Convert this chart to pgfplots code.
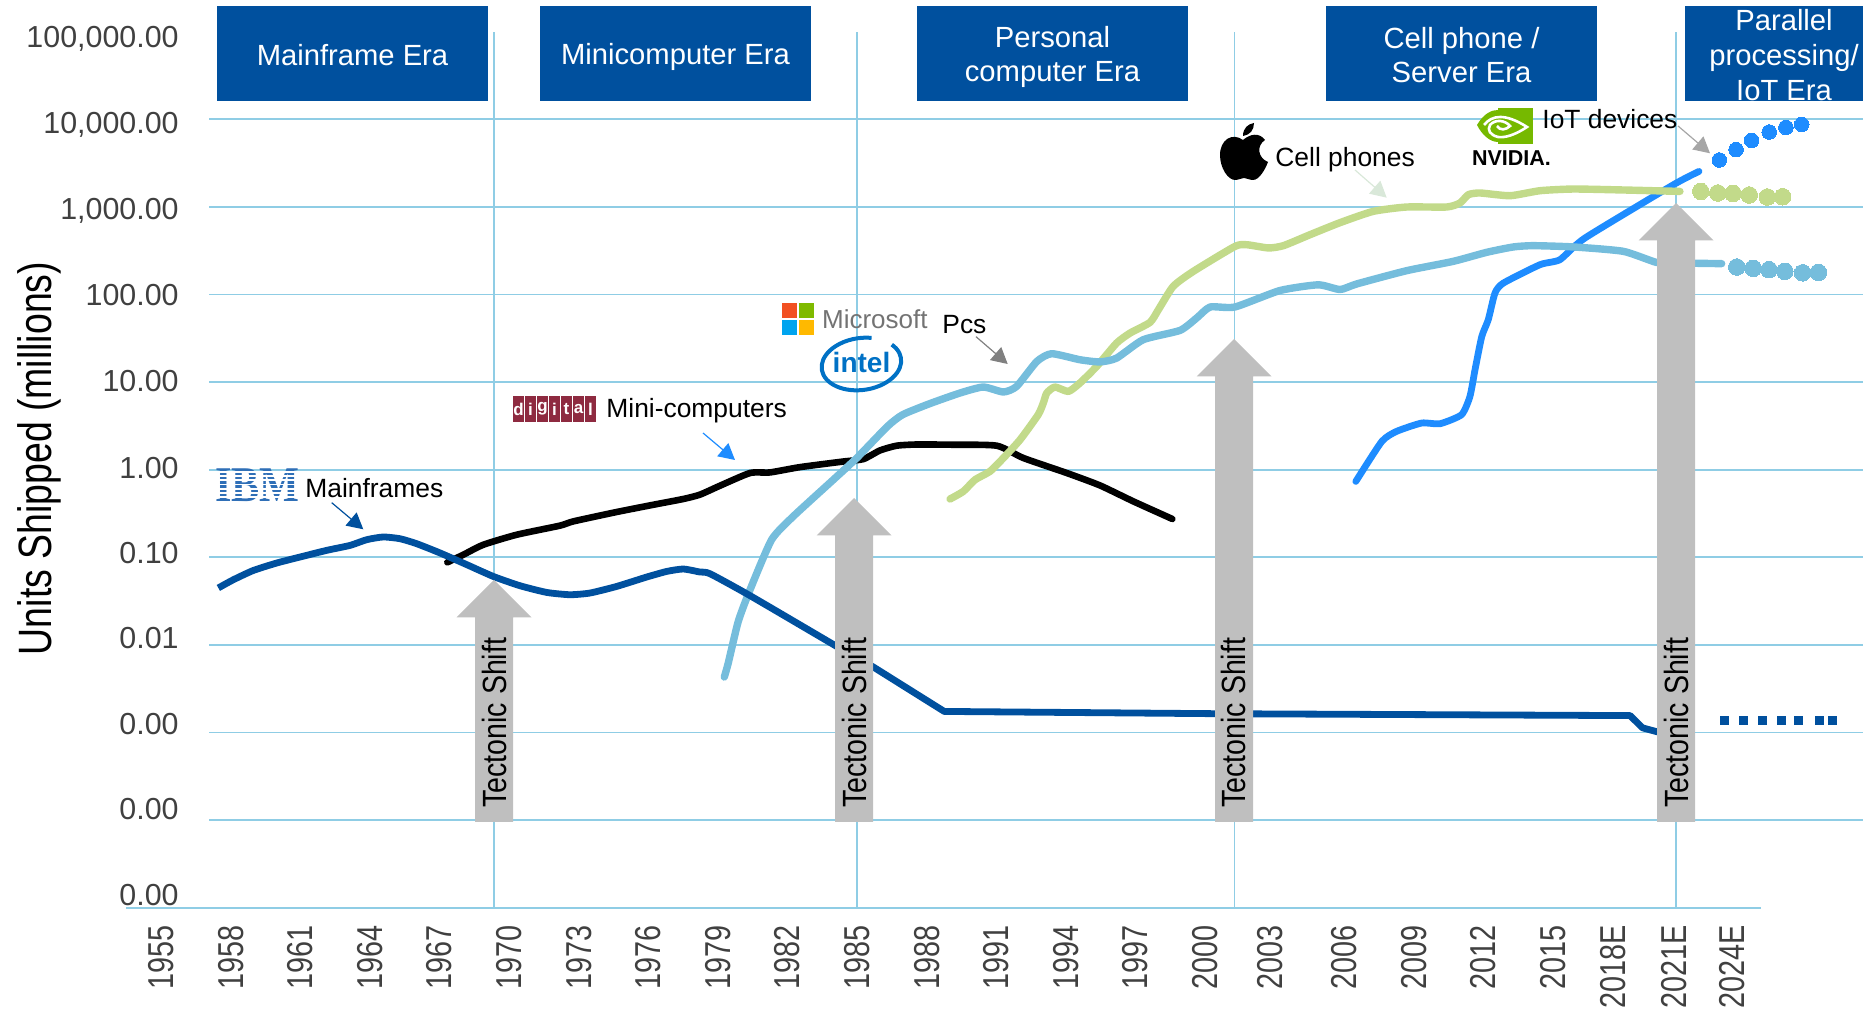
\documentclass[border=0pt]{standalone}
\usepackage{fontspec}
\usepackage{pgfplots}
\pgfplotsset{compat=1.18}
\usetikzlibrary{arrows.meta}
\setmainfont{Liberation Sans}
\newfontfamily\widefont[FakeStretch=0.8]{Liberation Sans}
\newfontfamily\tecfont[FakeStretch=0.85]{Liberation Sans}
\newfontfamily\serifb{Liberation Serif}
\newcommand\fs[1]{\fontsize{#1}{#1}\selectfont}
\definecolor{mainblue}{HTML}{00509E}
\definecolor{pcblue}{HTML}{75BDDC}
\definecolor{cellgreen}{HTML}{C2DA8A}
\definecolor{iotblue}{HTML}{1E8CFF}
\definecolor{gridc}{HTML}{8FCDE5}
\definecolor{arrowgray}{HTML}{BFBFBF}
\definecolor{ticktext}{HTML}{404040}
\begin{document}
\begin{tikzpicture}
\useasboundingbox (0,0) rectangle (931.5pt,505.5pt);
\begin{axis}[
    at={(63pt,51.65pt)}, anchor=south west,
    scale only axis, width=868.5pt, height=438pt,
    ymode=log, xmin=1953.49, xmax=2028.362, ymin=1e-5, ymax=1e5,
    clip=false, axis line style={draw=none}, major tick length=0pt, minor tick length=0pt,
    xtick={1955,1958,1961,1964,1967,1970,1973,1976,1979,1982,1985,1988,1991,1994,1997,2000,2002.8,2006,2009,2012,2015,2017.6,2020.2,2022.7},
    xticklabels={1955,1958,1961,1964,1967,1970,1973,1976,1979,1982,1985,1988,1991,1994,1997,2000,2003,2006,2009,2012,2015,2018E,2021E,2024E},
    x tick label style={rotate=90, anchor=east, inner sep=0pt, xshift=-8.6pt, font=\widefont\fs{18}, text=ticktext},
    ytick={83900,8910,929,99.5,10.4,1.08,0.113,0.0121,0.00126,0.000135,0.0000141},
    yticklabels={{100,000.00},{10,000.00},{1,000.00},{100.00},{10.00},{1.00},{0.10},{0.01},{0.00},{0.00},{0.00}},
    y tick label style={anchor=east, inner sep=0pt, xshift=26.5pt, yshift=-0.4pt, font=\fs{15.2}, text=ticktext},
    extra x ticks={1969.35,1985,2001.26,2020.30},
    extra x tick labels={},
    extra x tick style={grid=major, major grid style={gridc, line width=0.7pt}},
    ylabel={Units Shipped (millions)},
    ylabel style={at={(axis description cs:-0.0497,0.5128)}, anchor=center, font=\widefont\fs{23.4}, inner sep=0pt},
]
% gridlines and base line
\pgfplotsinvokeforeach{1e4,1e3,1e2,1e1,1,0.1,0.01,0.001,0.0001}{
  \addplot[gridc, line width=0.9pt, forget plot] coordinates {(1957.07,#1) (2028.36,#1)};
}
\addplot[gridc, line width=0.9pt, forget plot] coordinates {(1953.49,1e-5) (2023.97,1e-5)};

% mini-computers
\addplot[black, line width=3.3pt, line cap=round, line join=round, smooth, tension=0.35] coordinates {
(1967.34,.0875)(1968.03,.107)(1968.89,.139)(1970.33,.181)(1972.2,.230)(1972.77,.257)(1974.64,.329)
(1976.22,.398)(1977.51,.463)(1978.23,.519)(1979.09,.656)(1980.39,.917)(1981.25,.931)(1982.54,1.07)
(1984.41,1.24)(1985.27,1.32)(1985.99,1.66)(1986.71,1.88)(1987.57,1.94)(1989.01,1.93)(1991.02,1.88)
(1992.17,1.36)(1994.04,.917)(1995.47,.662)(1996.91,.435)(1998.59,.274)};

% IoT devices
\addplot[iotblue, line width=3.4pt, line cap=round, line join=round, smooth, tension=0.35] coordinates {
(2006.50,.735)(2007.62,2.10)(2008.26,2.74)(2009.34,3.41)(2010.13,3.35)(2011.06,4.25)(2011.42,6.87)
(2011.64,13.9)(2011.93,33.2)(2012.21,51.6)(2012.50,104)(2012.86,135)(2014.44,219)(2015.30,250)
(2016.38,442)(2020.19,1791)(2021.29,2541)};
\addplot[iotblue, only marks, mark=*, mark size=3.65pt, mark options={fill=iotblue, line width=0pt}] coordinates {
(2022.17,3430)(2022.89,4500)(2023.56,5744)(2024.32,7161)(2025.04,8090)(2025.72,8750)};

% cell phones
\addplot[cellgreen, line width=3.7pt, line cap=round, line join=round, smooth, tension=0.35] coordinates {
(1989.01,.463)(1989.58,.565)(1990.09,.769)(1990.73,.957)(1991.31,1.36)(1992.03,2.20)(1992.81,4.25)
(1993.03,5.77)(1993.18,7.51)(1993.53,8.79)(1994.11,7.83)(1994.61,9.77)(1995.33,15.1)(1996.19,27.9)
(1996.77,36.3)(1997.63,48.1)(1997.99,67.0)(1998.63,124)(1999.50,184)(2001.29,354)(2001.80,370)
(2002.73,340)(2003.38,361)(2004.53,482)(2005.82,661)(2007.25,889)(2008.69,997)(2010.42,997)
(2010.99,1108)(2011.35,1378)(2011.85,1442)(2013.15,1342)(2014.44,1531)(2015.88,1600)(2018.03,1560)(2020.47,1503)};
\addplot[cellgreen, only marks, mark=*, mark size=4.15pt, mark options={fill=cellgreen, line width=0pt}] coordinates {
(2021.37,1503)(2022.10,1442)(2022.76,1426)(2023.46,1368)(2024.24,1297)(2024.90,1307)};

% PCs
\addplot[pcblue, line width=3.7pt, line cap=round, line join=round, smooth, tension=0.35] coordinates {
(1979.28,.0043)(1979.45,.00621)(1979.88,.0185)(1980.39,.0427)(1981.32,.159)(1982.25,.293)(1983.98,.769)
(1984.99,1.36)(1986.31,3.12)(1986.97,4.25)(1988.13,5.67)(1989.44,7.51)(1990.44,8.79)(1991.31,7.71)
(1991.88,8.93)(1992.75,17.2)(1993.39,21.1)(1994.61,18.0)(1995.47,17.0)(1996.19,18.8)(1997.34,30.5)
(1998.92,38.9)(1999.64,53.9)(2000.22,72.0)(2001.29,72.0)(2003.23,111)(2004.88,129)(2005.82,114)
(2006.54,132)(2008.69,187)(2010.70,239)(2012.14,303)(2013.29,349)(2014.15,361)(2015.88,349)
(2018.03,311)(2019.47,232)(2020.33,229)(2022.27,225)};
\addplot[pcblue, only marks, mark=*, mark size=4.15pt, mark options={fill=pcblue, line width=0pt}] coordinates {
(2022.92,206)(2023.63,199)(2024.31,192)(2024.99,184)(2025.76,177)(2026.44,179)};

% mainframes, curved part then straight part
\addplot[mainblue, line width=3.4pt, line join=round, smooth, tension=0.35] coordinates {
(1957.47,.0447)(1958.12,.0555)(1958.98,.0708)(1959.99,.0861)(1960.99,.1007)(1962.14,.120)(1963.15,.1368)
(1963.87,.159)(1964.58,.1706)(1965.3,.163)(1966.02,.143)(1967.03,.112)(1968.18,.0824)(1969.32,.0605)
(1970.47,.0474)(1971.63,.0397)(1972.63,.0374)(1973.49,.0391)(1974.64,.0465)(1975.94,.0596)(1976.8,.069)
(1977.51,.0735)(1978.23,.0679)(1978.66,.065)(1980.39,.0365)(1984.12,.00962)};
\addplot[mainblue, line width=3.4pt, line join=round] coordinates {
(1984.12,.00962)(1985.7,.0056)(1988.76,.00174)(2000.43,.00164)(2018.32,.00156)(2018.86,.00113)(2019.48,.00102)(2020.13,.00097)};
\addplot[mainblue, only marks, mark=square*, mark size=2pt, mark options={fill=mainblue, line width=0pt}] coordinates {
(2022.41,.00136)(2023.23,.00136)(2024.05,.00136)(2024.83,.00136)(2025.6,.00136)(2026.47,.00136)(2027.03,.00136)};
\end{axis}

\begin{scope}[x=0.5pt, y=-0.5pt, yshift=505.5pt]
% era boxes
\fill[mainblue] (217,6) rectangle (488,100.7);
\fill[mainblue] (540,6) rectangle (811,100.7);
\fill[mainblue] (917,6) rectangle (1188,100.7);
\fill[mainblue] (1326,6) rectangle (1597,100.7);
\fill[mainblue] (1685,6) rectangle (1863,100.7);
\tikzset{era/.style={text=white, align=center, font=\fontsize{14.6}{17.3}\selectfont, inner sep=0pt}}
\node[era] at (352.5,55) {Mainframe Era};
\node[era] at (675.5,57.4) {Minicomputer Era};
\node[era] at (1052.5,57) {Personal\\computer Era};
\node[era] at (1461.5,55) {Cell phone /\\Server Era};
\node[era] at (1784,55) {Parallel\\processing/\\IoT Era};

% tectonic shift arrows
\foreach \c/\tx/\tip in {494/494.8/580, 854/854.2/498, 1234/1233.8/339, 1676/1676.6/203}{
  \fill[arrowgray] (\c,\tip) -- ++(37.5,37.5) -- ++(-18.5,0) -- (\c+19,822) -- (\c-19,822) -- (\c-19,\tip+37.5) -- (\c-37.5,\tip+37.5) -- cycle;
  \node[rotate=90, inner sep=0pt, font=\tecfont\fs{16.8}] at (\tx,722.7) {Tectonic Shift};
}

% series labels and leaders
\tikzset{lab/.style={anchor=west, inner sep=0pt, font=\fs{13.2}}}
\node[lab] at (305,488) {Mainframes};
\node[lab] at (606,410.4) {Mini-computers};
\node[lab] at (942,325) {Pcs};
\node[lab] at (1275,160) {Cell phones};
\node[lab] at (1542,119) {IoT devices};
\tikzset{lead/.style={-{Triangle[length=8pt,width=8.5pt]}, line width=0.6pt}}
\draw[lead, mainblue] (331.7,502.7) -- (363.3,529.3);
\draw[lead, iotblue] (703,433) -- (735,460);
\draw[lead, black!50] (976,336.7) -- (1007.7,364);
\draw[lead, color={rgb,255:red,217;green,232;blue,217}] (1355,170) -- (1386.7,197.7);
\draw[lead, black!35] (1678,126) -- (1710,153.3);

% IBM logo
\node[anchor=center, inner sep=0pt, text={rgb,255:red,47;green,111;blue,183}] at (257.5,485)
  {\scalebox{0.845}[1]{\serifb\bfseries\fs{25}IBM}};
\foreach \yy in {472,476.2,480.4,484.6,488.8,493,497.2}
  \draw[white, line width=0.9pt] (214,\yy) -- (301,\yy);

% digital logo
\foreach \lx/\ch in {518.5/d,530.5/i,542.5/g,554.5/i,566.5/t,578.5/a,590.5/l}{
  \fill[color={rgb,255:red,142;green,42;blue,64}] (\lx-5.6,395.7) rectangle (\lx+5.6,422.3);
  \node[text=white, inner sep=0pt, font=\bfseries\fs{8.5}] at (\lx,409) {\ch};
}

% Microsoft logo
\fill[color={rgb,255:red,242;green,80;blue,34}] (782,302.7) rectangle (796.8,317.7);
\fill[color={rgb,255:red,127;green,186;blue,0}] (798.8,302.7) rectangle (813.7,317.7);
\fill[color={rgb,255:red,0;green,164;blue,239}] (782,320) rectangle (796.8,335);
\fill[color={rgb,255:red,255;green,185;blue,0}] (798.8,320) rectangle (813.7,335);
\node[anchor=west, inner sep=0pt, text=black!55, font=\fs{13}] at (821.7,319) {Microsoft};

% intel logo
\draw[color={rgb,255:red,0;green,113;blue,197}, line width=2pt, rotate around={8:(861.4,364)}]
  (861.4,364) ++(-35:40 and 26) arc[start angle=-35, end angle=290, x radius=40, y radius=26];
\node[text={rgb,255:red,0;green,113;blue,197}, inner sep=0pt, font=\bfseries\fs{14}] at (861.5,363) {intel};

% Apple logo
\fill[black] (1243,140) .. controls (1232,132) and (1220,140) .. (1220,155)
  .. controls (1220,168) and (1228,180) .. (1235,180)
  .. controls (1239,180) and (1241,178) .. (1244,178)
  .. controls (1247,178) and (1249,180) .. (1253,180)
  .. controls (1259,180) and (1265,170) .. (1268,162)
  .. controls (1258,158) and (1256,146) .. (1265,140)
  .. controls (1259,132) and (1250,134) .. (1243,140) -- cycle;
\fill[black] (1243,136) .. controls (1243,128) and (1248,124) .. (1254,123)
  .. controls (1254,130) and (1250,135) .. (1243,136) -- cycle;

% NVIDIA logo
\fill[color={rgb,255:red,118;green,185;blue,0}] (1498,108) rectangle (1533,144);
\fill[color={rgb,255:red,118;green,185;blue,0}] (1477,125) .. controls (1484,113) and (1492,110) .. (1498,110)
  -- (1498,142) .. controls (1490,142) and (1482,135) .. (1477,125) -- cycle;
\draw[white, line width=1.3pt] (1484,125) .. controls (1492,115) and (1505,113) .. (1527,127)
  .. controls (1515,135) and (1505,138) .. (1498,137) .. controls (1490,135) and (1487,130) .. (1490,125)
  .. controls (1495,119) and (1505,120) .. (1510,126) .. controls (1506,130) and (1500,131) .. (1497,126);
\node[inner sep=0pt, font=\bfseries\fs{10.75}] at (1511.5,158) {NVIDIA.};
\end{scope}
\end{tikzpicture}
\end{document}
